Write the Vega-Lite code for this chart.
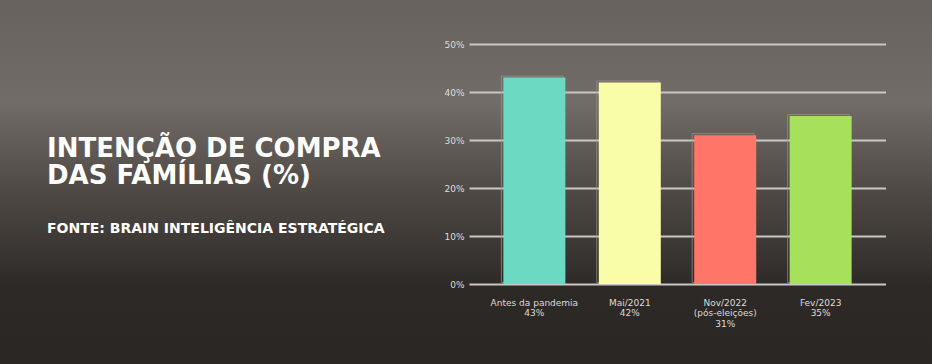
{
  "$schema": "https://vega.github.io/schema/vega-lite/v6.json",
  "padding": 0,
  "background": "#2b2724",
  "spacing": 0,
  "bounds": "flush",
  "config": {
    "font": "DejaVu Sans",
    "view": {"stroke": null}
  },
  "hconcat": [
    {
      "width": 469,
      "height": 364,
      "view": {
        "stroke": null,
        "fill": {
          "gradient": "linear", "x1": 0, "y1": 0, "x2": 0, "y2": 1,
          "stops": [
            {"offset": 0, "color": "#67625d"},
            {"offset": 0.28, "color": "#716c67"},
            {"offset": 0.52, "color": "#4f4a46"},
            {"offset": 0.79, "color": "#2d2926"},
            {"offset": 1, "color": "#2b2724"}
          ]
        }
      },
      "data": {"values": [{"t": ""}]},
      "mark": "text",
      "encoding": {"text": {"field": "t", "type": "nominal"}},
      "title": {
        "text": ["INTENÇÃO DE COMPRA", "DAS FAMÍLIAS (%)"],
        "subtitle": "FONTE: BRAIN INTELIGÊNCIA ESTRATÉGICA",
        "anchor": "start",
        "frame": "group",
        "orient": "top",
        "dx": 47,
        "dy": 236,
        "offset": 0,
        "font": "DejaVu Sans",
        "fontSize": 26,
        "fontWeight": "bold",
        "color": "#ffffff",
        "lineHeight": 27,
        "subtitleFont": "DejaVu Sans",
        "subtitleFontSize": 14,
        "subtitleFontWeight": "bold",
        "subtitleColor": "#ffffff",
        "subtitlePadding": 33
      }
    },
    {
      "width": 417,
      "height": 364,
      "view": {
        "stroke": null,
        "fill": {
          "gradient": "linear", "x1": 0, "y1": 0, "x2": 0, "y2": 1,
          "stops": [
            {"offset": 0, "color": "#67625d"},
            {"offset": 0.28, "color": "#716c67"},
            {"offset": 0.52, "color": "#4f4a46"},
            {"offset": 0.79, "color": "#2d2926"},
            {"offset": 1, "color": "#2b2724"}
          ]
        }
      },
      "data": {
        "values": [
          {"periodo": "Antes da pandemia|43%", "valor": 43},
          {"periodo": "Mai/2021|42%", "valor": 42},
          {"periodo": "Nov/2022|(pós-eleições)|31%", "valor": 31},
          {"periodo": "Fev/2023|35%", "valor": 35}
        ]
      },
      "encoding": {
        "x": {
          "field": "periodo",
          "type": "nominal",
          "sort": null,
          "scale": {"paddingInner": 0.35, "paddingOuter": 0.36},
          "axis": {
            "title": null,
            "orient": "bottom",
            "offset": -80,
            "labelAngle": 0,
            "labelExpr": "split(datum.label, '|')",
            "labelFont": "DejaVu Sans",
            "labelFontSize": 9,
            "labelColor": "#dedbd8",
            "labelLineHeight": 10.5,
            "labelBaseline": "top",
            "labelPadding": 14,
            "ticks": false,
            "tickSize": 0,
            "domain": false,
            "grid": false
          }
        },
        "y": {
          "field": "valor",
          "type": "quantitative",
          "scale": {"domain": [0, 50], "range": [284, 44], "nice": false},
          "axis": {
            "title": null,
            "values": [0, 10, 20, 30, 40, 50],
            "labelExpr": "datum.value + '%'",
            "labelFont": "DejaVu Sans",
            "labelFontSize": 9,
            "labelColor": "#dedbd8",
            "labelPadding": 5,
            "ticks": false,
            "tickSize": 0,
            "domain": false,
            "grid": true,
            "gridColor": "#cac8c6",
            "gridWidth": 2
          }
        }
      },
      "layer": [
        {
          "mark": {
            "type": "bar",
            "fill": null,
            "stroke": "#9a9591",
            "strokeWidth": 1,
            "strokeOpacity": 0.7,
            "xOffset": -2,
            "yOffset": -1.5
          }
        },
        {
          "mark": {"type": "bar"},
          "encoding": {
            "color": {
              "field": "periodo",
              "type": "nominal",
              "sort": null,
              "legend": null,
              "scale": {"range": ["#6cdac2", "#fafda8", "#ff7669", "#a7e05a"]}
            }
          }
        }
      ]
    },
    {
      "width": 46,
      "height": 364,
      "view": {
        "stroke": null,
        "fill": {
          "gradient": "linear", "x1": 0, "y1": 0, "x2": 0, "y2": 1,
          "stops": [
            {"offset": 0, "color": "#67625d"},
            {"offset": 0.28, "color": "#716c67"},
            {"offset": 0.52, "color": "#4f4a46"},
            {"offset": 0.79, "color": "#2d2926"},
            {"offset": 1, "color": "#2b2724"}
          ]
        }
      },
      "data": {"values": [{"t": ""}]},
      "mark": "text",
      "encoding": {"text": {"field": "t", "type": "nominal"}}
    }
  ]
}
